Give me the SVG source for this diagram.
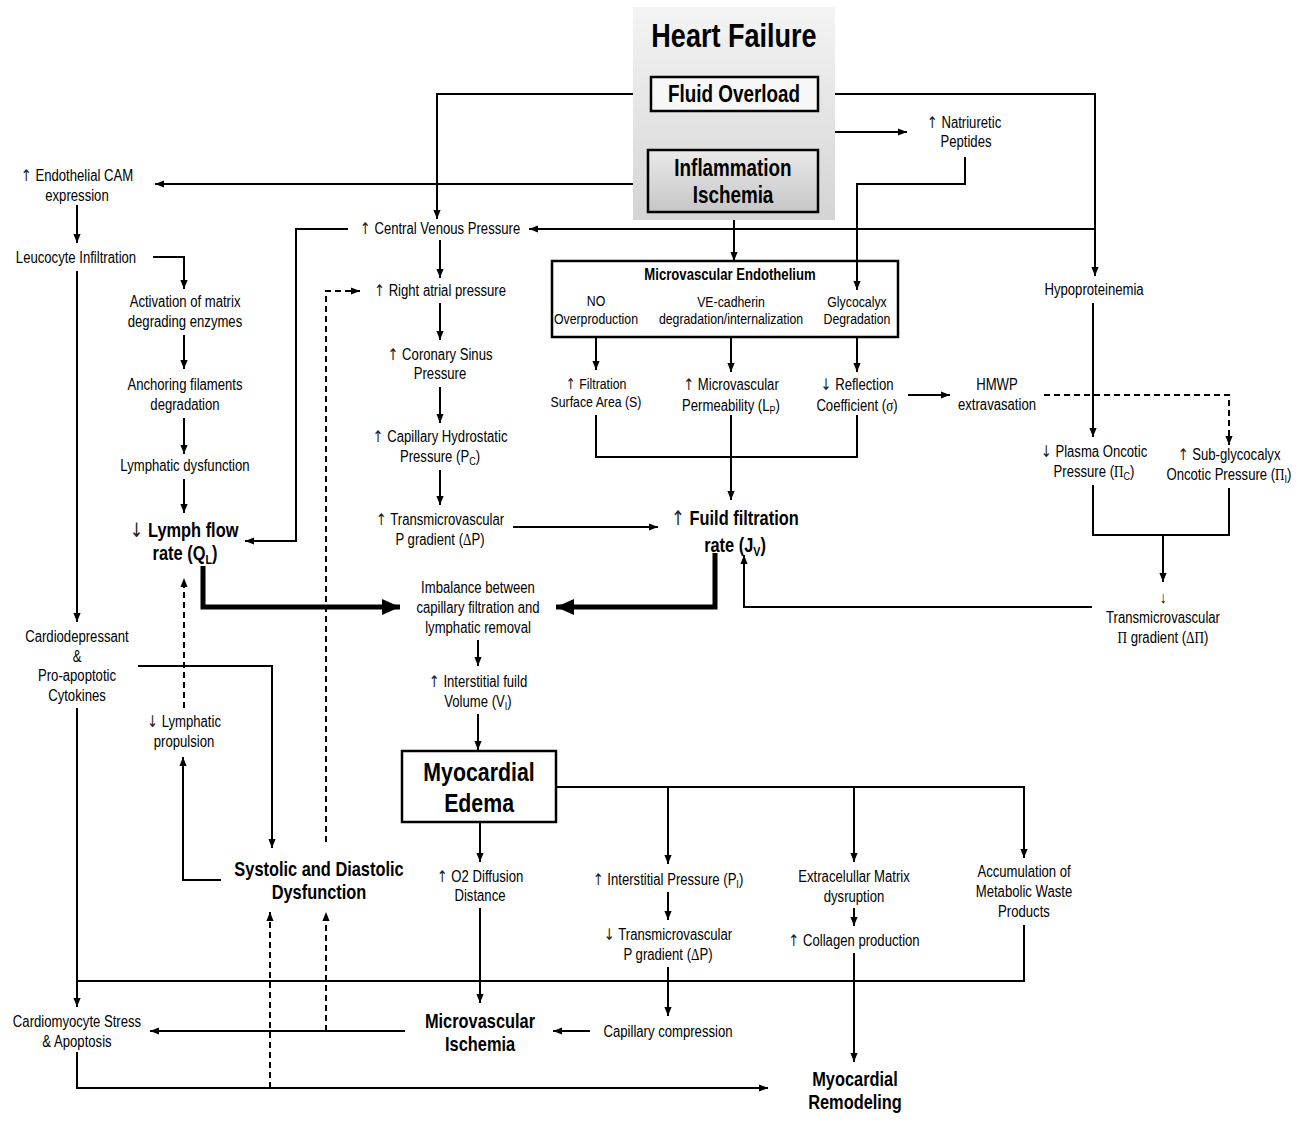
<svg xmlns="http://www.w3.org/2000/svg" width="1304" height="1130" viewBox="0 0 1304 1130">
<style>
text{font-family:"Liberation Sans Narrow","Arial Narrow","Liberation Sans",Arial,sans-serif;font-size:16px;text-anchor:middle;fill:#000;transform-box:fill-box;transform-origin:center;transform:scaleX(0.82)}
.s{font-size:15px}
.b{font-weight:bold;font-size:20px}
.g{font-family:"Liberation Serif","Times New Roman",serif}
.ar{font-family:"DejaVu Sans",sans-serif;font-weight:normal;fill:#222}
.c{stroke:#000;stroke-width:2;fill:none}
.a{marker-end:url(#ah)}
.d{stroke-dasharray:6 4}
.k{stroke:#000;stroke-width:5;fill:none;marker-end:url(#big)}
.box{stroke:#000;stroke-width:2.5}
</style>
<defs>
<marker id="ah" markerUnits="userSpaceOnUse" markerWidth="9" markerHeight="9" viewBox="0 0 10 10" refX="10" refY="5" orient="auto"><path d="M0,1 L10,5 L0,9 z" fill="#000"/></marker>
<marker id="big" markerUnits="userSpaceOnUse" markerWidth="18" markerHeight="18" viewBox="0 0 10 10" refX="10" refY="5" orient="auto"><path d="M0,0.5 L10,5 L0,9.5 z" fill="#000"/></marker>
<linearGradient id="bg" x1="0" y1="0" x2="0" y2="1"><stop offset="0" stop-color="#f4f4f4"/><stop offset="1" stop-color="#d4d4d4"/></linearGradient>
<linearGradient id="ib" x1="0" y1="0" x2="0" y2="1"><stop offset="0" stop-color="#eaeaea"/><stop offset="1" stop-color="#c6c6c6"/></linearGradient>
</defs>
<rect width="1304" height="1130" fill="#fff"/>

<g id="connectors">
<path class="c a" d="M651,94 H437 V219"/>
<path class="c a" d="M818,94 H1095 V276"/>
<path class="c a" d="M734,111 V132 H907"/>
<path class="c a" d="M965,157 V184 H857 V290"/>
<path class="c a" d="M648,184 H155"/>
<path class="c a" d="M734,212 V261"/>
<path class="c a" d="M1095,229 H529"/>
<path class="c a" d="M348,229 H296 V541 H245"/>
<path class="c a" d="M77,205 V243"/>
<path class="c a" d="M153,257 H184 V289"/>
<path class="c a" d="M184,335 V369"/>
<path class="c a" d="M184,418 V454"/>
<path class="c a" d="M184,479 V513"/>
<path class="c a" d="M77,271 V622"/>
<path class="c a" d="M440,240 V278"/>
<path class="c a" d="M440,303 V340"/>
<path class="c a" d="M440,387 V423"/>
<path class="c a" d="M440,470 V505"/>
<path class="c a" d="M513,527 H658"/>
<path class="c a" d="M596,337 V370"/>
<path class="c a" d="M731,337 V372"/>
<path class="c a" d="M857,337 V372"/>
<path class="c" d="M596,415 V457 H857 V415"/>
<path class="c a" d="M731,415 V500"/>
<path class="c a" d="M908,395 H950"/>
<path class="c a d" d="M1044,395 H1229 V445"/>
<path class="c a" d="M1093,303 V437"/>
<path class="c" d="M1093,485 V535 H1229 V488"/>
<path class="c a" d="M1163,535 V582"/>
<path class="c a" d="M1092,607 H744 V555"/>
<path class="k" d="M715,553 V607 H556"/>
<path class="k" d="M203,566 V607 H400"/>
<path class="c a" d="M478,640 V666"/>
<path class="c a" d="M478,714 V750"/>
<path class="c a" d="M556,787 H1024 V858"/>
<path class="c a" d="M668,787 V864"/>
<path class="c a" d="M854,787 V862"/>
<path class="c a" d="M480,822 V862"/>
<path class="c a" d="M480,908 V1003"/>
<path class="c a" d="M668,892 V920"/>
<path class="c a" d="M668,967 V1016"/>
<path class="c a" d="M590,1031 H553"/>
<path class="c a" d="M854,908 V926"/>
<path class="c a" d="M854,953 V1062"/>
<path class="c" d="M1024,925 V981 H77"/>
<path class="c a" d="M77,708 V1007"/>
<path class="c a" d="M405,1031 H150"/>
<path class="c a d" d="M326,1031 V912"/>
<path class="c a d" d="M270,1088 V912"/>
<path class="c a" d="M77,1052 V1088 H768"/>
<path class="c a" d="M138,666 H272 V848"/>
<path class="c a" d="M221,880 H183 V757"/>
<path class="c a d" d="M184,708 V578"/>
<path class="c a d" d="M326,842 V291 H360"/>
</g>

<g id="heart-failure">
<rect x="633" y="7" width="202" height="213" fill="url(#bg)"/>
<text x="734" y="47" style="font-weight:bold;font-size:33px">Heart Failure</text>
</g>
<g id="fluid-overload">
<rect class="box" x="651" y="77" width="167" height="34" fill="#f7f7f7"/>
<text x="734" y="102" style="font-weight:bold;font-size:23px">Fluid Overload</text>
</g>
<g id="inflammation">
<rect class="box" x="648" y="150" width="170" height="62" fill="url(#ib)"/>
<text x="733" y="176" style="font-weight:bold;font-size:23px">Inflammation</text>
<text x="733" y="203" style="font-weight:bold;font-size:23px">Ischemia</text>
</g>
<g id="natriuretic">
<text x="964" y="128"><tspan class="ar">↑</tspan> Natriuretic</text>
<text x="966" y="147">Peptides</text>
</g>
<g id="cam">
<text x="77" y="181"><tspan class="ar">↑</tspan> Endothelial CAM</text>
<text x="77" y="201">expression</text>
</g>
<g id="leucocyte"><text x="76" y="263">Leucocyte Infiltration</text></g>
<g id="activation">
<text x="185" y="307">Activation of matrix</text>
<text x="185" y="327">degrading enzymes</text>
</g>
<g id="anchoring">
<text x="185" y="390">Anchoring filaments</text>
<text x="185" y="410">degradation</text>
</g>
<g id="lymph-dysf"><text x="185" y="471">Lymphatic dysfunction</text></g>
<g id="lymph-flow">
<text class="b" x="184" y="537"><tspan class="ar">↓</tspan> Lymph flow</text>
<text class="b" x="185" y="560">rate (Q<tspan dy="4" font-size="13">L</tspan><tspan dy="-4">)</tspan></text>
</g>
<g id="cardiodepressant">
<text x="77" y="642">Cardiodepressant</text>
<text x="77" y="662">&amp;</text>
<text x="77" y="681">Pro-apoptotic</text>
<text x="77" y="701">Cytokines</text>
</g>
<g id="lymph-prop">
<text x="184" y="727"><tspan class="ar">↓</tspan> Lymphatic</text>
<text x="184" y="747">propulsion</text>
</g>
<g id="systolic">
<text class="b" x="319" y="876">Systolic and Diastolic</text>
<text class="b" x="319" y="899">Dysfunction</text>
</g>
<g id="cardiomyocyte">
<text x="77" y="1027">Cardiomyocyte Stress</text>
<text x="77" y="1047">&amp; Apoptosis</text>
</g>
<g id="cvp"><text x="440" y="234"><tspan class="ar">↑</tspan> Central Venous Pressure</text></g>
<g id="rap"><text x="440" y="296"><tspan class="ar">↑</tspan> Right atrial pressure</text></g>
<g id="csp">
<text x="440" y="360"><tspan class="ar">↑</tspan> Coronary Sinus</text>
<text x="440" y="379">Pressure</text>
</g>
<g id="chp">
<text x="440" y="442"><tspan class="ar">↑</tspan> Capillary Hydrostatic</text>
<text x="440" y="462">Pressure (P<tspan dy="3" font-size="11">C</tspan><tspan dy="-3">)</tspan></text>
</g>
<g id="tmpg">
<text x="440" y="525"><tspan class="ar">↑</tspan> Transmicrovascular</text>
<text x="440" y="545">P gradient (<tspan class="g">Δ</tspan>P)</text>
</g>
<g id="endothelium">
<rect class="box" x="552" y="261" width="346" height="76" fill="none"/>
<text x="730" y="280" style="font-weight:bold;font-size:16px">Microvascular Endothelium</text>
<text class="s" x="596" y="306">NO</text>
<text class="s" x="596" y="324">Overproduction</text>
<text class="s" x="731" y="307">VE-cadherin</text>
<text class="s" x="731" y="324">degradation/internalization</text>
<text class="s" x="857" y="307">Glycocalyx</text>
<text class="s" x="857" y="324">Degradation</text>
</g>
<g id="filtration-area">
<text class="s" x="596" y="389"><tspan class="ar">↑</tspan> Filtration</text>
<text class="s" x="596" y="407">Surface Area (S)</text>
</g>
<g id="permeability">
<text x="731" y="390"><tspan class="ar">↑</tspan> Microvascular</text>
<text x="731" y="411">Permeability (L<tspan dy="3" font-size="11">P</tspan><tspan dy="-3">)</tspan></text>
</g>
<g id="reflection">
<text x="857" y="390"><tspan class="ar">↓</tspan> Reflection</text>
<text x="857" y="411">Coefficient (<tspan class="g">σ</tspan>)</text>
</g>
<g id="fuild">
<text class="b" x="735" y="525"><tspan class="ar">↑</tspan> Fuild filtration</text>
<text class="b" x="735" y="552">rate (J<tspan dy="4" font-size="13">V</tspan><tspan dy="-4">)</tspan></text>
</g>
<g id="hmwp">
<text x="997" y="390">HMWP</text>
<text x="997" y="410">extravasation</text>
</g>
<g id="hypoproteinemia"><text x="1094" y="295">Hypoproteinemia</text></g>
<g id="plasma">
<text x="1094" y="457"><tspan class="ar">↓</tspan> Plasma Oncotic</text>
<text x="1094" y="477">Pressure (<tspan class="g">Π</tspan><tspan dy="3" font-size="11">C</tspan><tspan dy="-3">)</tspan></text>
</g>
<g id="subglyco">
<text x="1229" y="460"><tspan class="ar">↑</tspan> Sub-glycocalyx</text>
<text x="1229" y="480">Oncotic Pressure (<tspan class="g">Π</tspan><tspan dy="3" font-size="11">I</tspan><tspan dy="-3">)</tspan></text>
</g>
<g id="oncotic-gradient">
<text x="1163" y="603">↓</text>
<text x="1163" y="623">Transmicrovascular</text>
<text x="1163" y="643"><tspan class="g">Π</tspan> gradient (<tspan class="g">ΔΠ</tspan>)</text>
</g>
<g id="imbalance">
<text x="478" y="593">Imbalance between</text>
<text x="478" y="613">capillary filtration and</text>
<text x="478" y="633">lymphatic removal</text>
</g>
<g id="interstitial-volume">
<text x="478" y="687"><tspan class="ar">↑</tspan> Interstitial fuild</text>
<text x="478" y="707">Volume (V<tspan dy="3" font-size="11">I</tspan><tspan dy="-3">)</tspan></text>
</g>
<g id="edema">
<rect class="box" x="402" y="751" width="154" height="71" fill="#fff"/>
<text x="479" y="781" style="font-weight:bold;font-size:26px">Myocardial</text>
<text x="479" y="812" style="font-weight:bold;font-size:26px">Edema</text>
</g>
<g id="o2">
<text x="480" y="882"><tspan class="ar">↑</tspan> O2 Diffusion</text>
<text x="480" y="901">Distance</text>
</g>
<g id="interstitial-pressure"><text x="668" y="885"><tspan class="ar">↑</tspan> Interstitial Pressure (P<tspan dy="3" font-size="11">I</tspan><tspan dy="-3">)</tspan></text></g>
<g id="tmpg-down">
<text x="668" y="940"><tspan class="ar">↓</tspan> Transmicrovascular</text>
<text x="668" y="960">P gradient (<tspan class="g">Δ</tspan>P)</text>
</g>
<g id="capillary-compression"><text x="668" y="1037">Capillary compression</text></g>
<g id="micro-ischemia">
<text class="b" x="480" y="1028">Microvascular</text>
<text class="b" x="480" y="1051">Ischemia</text>
</g>
<g id="ecm">
<text x="854" y="882">Extracelullar Matrix</text>
<text x="854" y="902">dysruption</text>
</g>
<g id="collagen"><text x="854" y="946"><tspan class="ar">↑</tspan> Collagen production</text></g>
<g id="remodeling">
<text class="b" x="855" y="1086">Myocardial</text>
<text class="b" x="855" y="1109">Remodeling</text>
</g>
<g id="metabolic">
<text x="1024" y="877">Accumulation of</text>
<text x="1024" y="897">Metabolic Waste</text>
<text x="1024" y="917">Products</text>
</g>
</svg>
